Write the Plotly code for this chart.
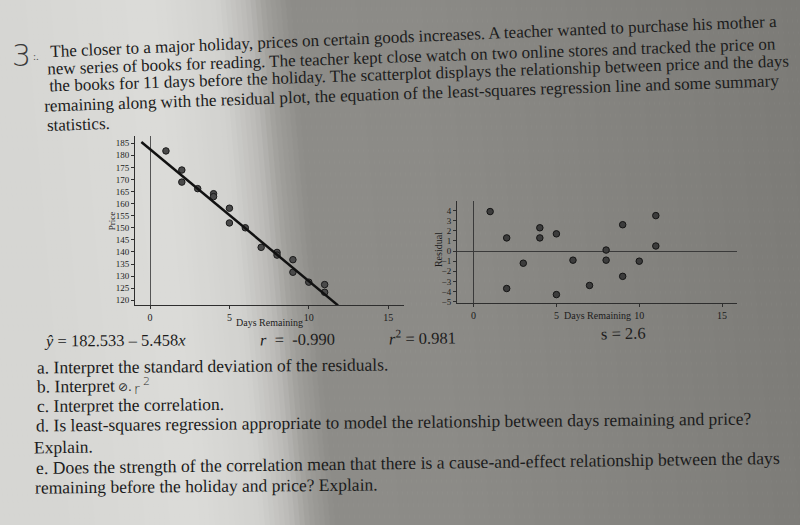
import math
import numpy as np
import plotly.graph_objects as go

# ---- data ----
days = [1, 2, 2, 3, 4, 4, 5, 5, 6, 7, 8, 8, 9, 9, 10, 11, 11]
price = [181.8, 173.9, 168.9, 166.2, 164.1, 162.9, 158.1, 152.0, 150.0,
         141.9, 139.8, 138.7, 136.8, 131.6, 127.5, 126.5, 123.3]
residual = [3.9, 1.3, -3.7, -1.2, 2.3, 1.3, 1.7, -4.3, -0.9,
            -3.4, 0.1, -0.9, 2.6, -2.5, -1.0, 3.5, 0.5]

intercept = 182.533
slope = -5.458
r_value = -0.990
r_squared = 0.981
s_value = 2.6

x_ticks = [0, 5, 10, 15]
price_ticks = list(range(120, 190, 5))
resid_ticks = list(range(-5, 5))

W, H = 800, 525
SERIF = "Liberation Serif"
INK = "#1c1c1c"
AXIS = "#2e2e2e"


def px(x):
    return x / W


def py(y):
    return 1 - y / H


fig = go.Figure()

# ---- scatterplot with regression line ----
fig.add_trace(go.Scatter(
    x=days, y=price, mode="markers",
    marker=dict(size=6.5, color="#4a4a4a", line=dict(color="#1a1a1a", width=1)),
    xaxis="x", yaxis="y", showlegend=False,
))
line_x = np.array([-0.55, (intercept - 117.9) / -slope])
fig.add_trace(go.Scatter(
    x=line_x, y=intercept + slope * line_x, mode="lines",
    line=dict(color="#111111", width=2.5),
    xaxis="x", yaxis="y", showlegend=False,
))

# ---- residual plot ----
fig.add_trace(go.Scatter(
    x=days, y=residual, mode="markers",
    marker=dict(size=6.5, color="#3c3c3c", line=dict(color="#141414", width=1)),
    xaxis="x2", yaxis="y2", showlegend=False,
))

# ---- photo shading: light page on the left, shadow on the right ----
stops = [(0, (214, 214, 211)), (150, (220, 220, 217)), (215, (210, 210, 207)),
         (245, (188, 187, 184)), (265, (160, 159, 155)), (290, (142, 141, 137)),
         (420, (140, 139, 135)), (850, (122, 121, 117))]
sx = [s[0] for s in stops]
shapes = []
shift = 45
step = 5
for a in range(-60, 800, step):
    c = a + step / 2
    rgb = [int(np.interp(c, sx, [s[1][k] for s in stops])) for k in range(3)]
    path = (f"M {px(a)},1.01 L {px(a + step + 0.6)},1.01 "
            f"L {px(a + step + 0.6 + shift)},-0.01 L {px(a + shift)},-0.01 Z")
    shapes.append(dict(type="path", xref="paper", yref="paper", path=path,
                       fillcolor=f"rgb({rgb[0]},{rgb[1]},{rgb[2]})",
                       line=dict(width=0), layer="below"))

axis_common = dict(showgrid=False, showline=True, linecolor=AXIS, linewidth=1,
                   ticks="outside", ticklen=3, tickcolor=AXIS, tickwidth=1,
                   tickfont=dict(family=SERIF, size=9, color=INK))
x_font = dict(family=SERIF, size=10, color=INK)

fig.update_layout(
    width=W, height=H,
    margin=dict(l=0, r=0, t=0, b=0),
    paper_bgcolor="rgb(214,214,211)",
    plot_bgcolor="rgba(0,0,0,0)",
    showlegend=False,
    shapes=shapes,
    xaxis=dict(domain=[px(135), px(404)], range=[-0.95, 16], tickvals=x_ticks,
               zeroline=True, zerolinecolor="#555555", zerolinewidth=1,
               anchor="y", **{**axis_common, "tickfont": x_font}),
    yaxis=dict(domain=[py(307.7), py(137)], range=[117.9, 188], tickvals=price_ticks,
               zeroline=False, anchor="x", **axis_common),
    xaxis2=dict(domain=[px(457), px(737)], range=[-1.0, 15.9], tickvals=x_ticks,
                zeroline=True, zerolinecolor="#3a3a3a", zerolinewidth=1,
                anchor="y2", **{**axis_common, "tickfont": x_font}),
    yaxis2=dict(domain=[py(305), py(203)], range=[-5.1, 4.9], tickvals=resid_ticks,
                zeroline=True, zerolinecolor="#3a3a3a", zerolinewidth=1,
                anchor="x2", **axis_common),
)


def add_line(text, x0, y0, x1, y1, size=17, family=SERIF, color=INK):
    ang = math.degrees(math.atan2(y1 - y0, x1 - x0))
    fig.add_annotation(x=px((x0 + x1) / 2), y=py((y0 + y1) / 2 - 1),
                       xref="paper", yref="paper", text=text, showarrow=False,
                       textangle=ang, xanchor="center", yanchor="middle",
                       font=dict(family=family, size=size, color=color))


def add_label(text, x, y, size=10, angle=0, family=SERIF, color=INK, weight=None):
    font = dict(family=family, size=size, color=color)
    if weight:
        font["weight"] = weight
    fig.add_annotation(x=px(x), y=py(y), xref="paper", yref="paper", text=text,
                       showarrow=False, textangle=angle, xanchor="center",
                       yanchor="middle", font=font)


# axis titles
add_label("Price", 112, 223, size=9, angle=-90)
add_label("Days Remaining", 269, 325, size=10)
add_label("Residual", 438, 252, size=10, angle=-90)
add_label("Days Remaining", 597, 318, size=10)

# question number (handwritten 3)
add_label("3", 21, 56, size=30, family="DejaVu Sans", color="#3a3a3a", weight=200)
add_label(":.", 36, 56, size=11, color="#555555")

# problem statement
add_line("The closer to a major holiday, prices on certain goods increases. "
         "A teacher wanted to purchase his mother a", 53, 53, 773, 23)
add_line("new series of books for reading. The teacher kept close watch on two "
         "online stores and tracked the price on", 50, 70, 772, 45)
add_line("the books for 11 days before the holiday. The scatterplot displays the "
         "relationship between price and the days", 50, 88, 788, 63)
add_line("remaining along with the residual plot, the equation of the "
         "least-squares regression line and some summary", 50, 108, 772, 83, size=17.2)
add_line("statistics.", 49, 127, 108, 125)

# summary statistics
sign = "–" if slope < 0 else "+"
add_line(f"<i>ŷ</i> = {intercept:.3f} {sign} {abs(slope):.3f}<i>x</i>",
         43, 345, 187, 344, size=16.5)
add_line(f"<i>r</i>\u2002=\u2002{r_value:.3f}", 253, 344, 341, 343, size=16.5)
add_line(f"<i>r</i><sup>2</sup> = {r_squared:.3f}", 390, 342, 455, 341, size=16.5)
add_line(f"s = {s_value}", 599, 338, 647, 337, size=16.5)

# questions
add_line("a. Interpret the standard deviation of the residuals.", 38, 371, 387, 368, size=17.5)
add_line("b. Interpret", 38, 390, 113, 389, size=17.5)
add_label("⊘.", 125, 390, size=12, family="DejaVu Sans", color="#2a2a2a")
add_label("r", 137, 392, size=14, family="DejaVu Sans", color="#2a2a2a", weight=300)
add_label("2", 146, 384, size=11, family="DejaVu Sans", color="#2a2a2a", weight=300)
add_line("c. Interpret the correlation.", 38, 410, 222, 408, size=17.5)
add_line("d. Is least-squares regression appropriate to model the relationship "
         "between days remaining and price?", 35, 430, 753, 423, size=17.5)
add_line("Explain.", 35, 452, 91, 451, size=17.5)
add_line("e. Does the strength of the correlation mean that there is a "
         "cause-and-effect relationship between the days", 35, 473, 780, 463, size=17.7)
add_line("remaining before the holiday and price? Explain.", 35, 492, 377, 489, size=17.5)

fig.write_html("out.html",
               config={"displayModeBar": False},
               post_script="document.body.style.margin='0';"
                           "document.body.style.overflow='hidden';"
                           "document.body.style.background='rgb(214,214,211)';")
